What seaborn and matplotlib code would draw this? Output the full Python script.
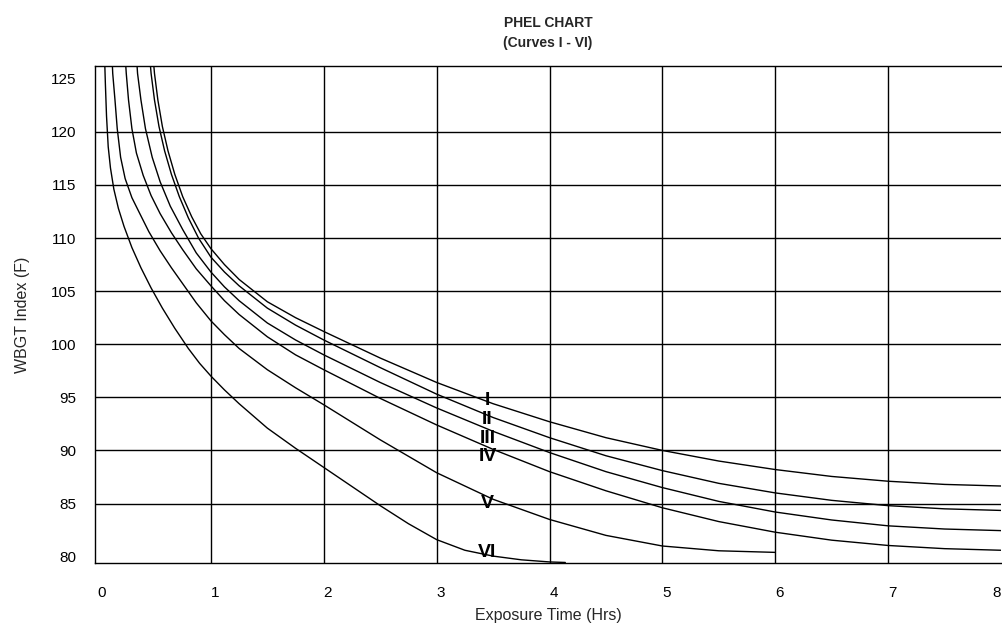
import pandas as pd
import seaborn as sns
import matplotlib.pyplot as plt
from matplotlib.transforms import ScaledTranslation

# PHEL curves (x = exposure hours, y = WBGT in F)
curve_names = ["I", "II", "III", "IV", "V", "VI"]

i_x = [0.48, 0.50, 0.53, 0.57, 0.62, 0.68, 0.75, 0.83, 0.91, 1.0, 1.12, 1.25, 1.5, 1.75, 2.0, 2.5,
       3.0, 3.5, 4.0, 4.5, 5.0, 5.5, 6.0, 6.5, 7.0, 7.5, 8.0]
i_y = [128, 125.5, 123, 120.5, 118.2, 116.0, 113.9, 112.0, 110.4, 109.0, 107.5, 106.1, 104.0, 102.5, 101.2, 98.7,
       96.4, 94.4, 92.7, 91.2, 90.0, 89.0, 88.2, 87.55, 87.1, 86.8, 86.65]

ii_x = [0.45, 0.47, 0.50, 0.54, 0.59, 0.65, 0.72, 0.80, 0.89, 1.0, 1.12, 1.25, 1.5, 1.75, 2.0, 2.5,
        3.0, 3.5, 4.0, 4.5, 5.0, 5.5, 6.0, 6.5, 7.0, 7.5, 8.0]
ii_y = [128, 125.5, 123, 120.5, 118.2, 116.0, 113.9, 111.9, 110.0, 108.2, 106.8, 105.5, 103.4, 101.8, 100.4, 97.8,
        95.3, 93.1, 91.2, 89.5, 88.1, 86.9, 86.0, 85.3, 84.8, 84.5, 84.35]

iii_x = [0.335, 0.35, 0.38, 0.42, 0.48, 0.55, 0.64, 0.75, 0.87, 1.0, 1.12, 1.25, 1.5, 1.75, 2.0, 2.5,
         3.0, 3.5, 4.0, 4.5, 5.0, 5.5, 6.0, 6.5, 7.0, 7.5, 8.0]
iii_y = [128, 125.5, 123, 120.3, 117.6, 115.3, 113.0, 110.8, 108.6, 106.8, 105.4, 104.1, 102.0, 100.4, 99.0, 96.4,
         94.0, 91.8, 89.8, 88.0, 86.5, 85.2, 84.2, 83.45, 82.9, 82.6, 82.45]

iv_x = [0.235, 0.25, 0.27, 0.30, 0.34, 0.40, 0.47, 0.55, 0.65, 0.75, 0.87, 1.0, 1.12, 1.25, 1.5, 1.75, 2.0, 2.5,
        3.0, 3.5, 4.0, 4.5, 5.0, 5.5, 6.0, 6.5, 7.0, 7.5, 8.0]
iv_y = [128, 125.5, 123, 120.3, 118.0, 115.9, 114.0, 112.3, 110.5, 108.9, 107.1, 105.5, 104.1, 102.8, 100.7, 99.0, 97.6, 94.9,
        92.4, 90.1, 88.0, 86.2, 84.6, 83.3, 82.3, 81.55, 81.05, 80.75, 80.6]

v_x = [0.12, 0.13, 0.15, 0.17, 0.20, 0.24, 0.30, 0.37, 0.45, 0.55, 0.65, 0.75, 0.87, 1.0, 1.12, 1.25, 1.5, 1.75, 2.0, 2.5,
       3.0, 3.5, 4.0, 4.5, 5.0, 5.5, 6.0]
v_y = [128, 125.5, 123, 120.3, 117.6, 115.6, 113.8, 112.3, 110.6, 108.8, 107.2, 105.7, 103.9, 102.2, 100.9, 99.6, 97.6, 95.9, 94.3, 91.0,
       87.9, 85.4, 83.5, 82.0, 81.0, 80.55, 80.4]

vi_x = [0.055, 0.065, 0.075, 0.09, 0.11, 0.14, 0.18, 0.23, 0.30, 0.38, 0.47, 0.57, 0.68, 0.8, 0.9, 1.0, 1.12, 1.25, 1.5, 1.75, 2.0,
        2.25, 2.5, 2.75, 3.0, 3.25, 3.5, 3.75, 4.0, 4.14]
vi_y = [128, 124.5, 121.5, 118.6, 116.6, 114.6, 112.8, 111.1, 109.1, 107.2, 105.3, 103.4, 101.5, 99.6, 98.2, 97.0, 95.7, 94.4, 92.1, 90.2, 88.4,
        86.6, 84.8, 83.1, 81.6, 80.6, 80.05, 79.7, 79.5, 79.45]

# where the roman numeral labels sit
label_x = [3.45, 3.45, 3.45, 3.45, 3.45, 3.45]
label_y = [94.7, 92.9, 91.1, 89.4, 85.0, 80.4]

x_ticks = [0, 1, 2, 3, 4, 5, 6, 7, 8]
y_ticks = [80, 85, 90, 95, 100, 105, 110, 115, 120, 125]

frames = []
for name, xs, ys in zip(curve_names, [i_x, ii_x, iii_x, iv_x, v_x, vi_x], [i_y, ii_y, iii_y, iv_y, v_y, vi_y]):
    frames.append(pd.DataFrame({"curve": name, "hrs": xs, "wbgt": ys}))
df = pd.concat(frames, ignore_index=True)

sns.set_theme(style="white")
plt.rcParams["font.family"] = ["Liberation Sans", "DejaVu Sans"]

fig = plt.figure(figsize=(10.02, 6.31), dpi=100)
ax = fig.add_axes([95 / 1002, 1 - 563 / 631, (1001 - 95) / 1002, (563 - 66) / 631])

sns.lineplot(data=df, x="hrs", y="wbgt", units="curve", estimator=None, sort=False,
             color="black", linewidth=1.0, ax=ax)

for name, lx, ly in zip(curve_names, label_x, label_y):
    ax.text(lx, ly, name, ha="center", va="center", fontsize=14, fontweight="bold", color="black")

ax.set_xlim(-0.027, 8)
ax.set_ylim(79.4, 126.2)
ax.set_xticks(x_ticks)
ax.set_yticks(y_ticks)
ax.grid(True, color="black", linewidth=1.0)
ax.set_axisbelow(True)
# no gridline at 80 / 125, none on the x=0 and x=8 edges
ygrid = ax.yaxis.get_gridlines()
ygrid[0].set_visible(False)
ygrid[-1].set_visible(False)
xgrid = ax.xaxis.get_gridlines()
xgrid[0].set_visible(False)
xgrid[-1].set_visible(False)

ax.tick_params(axis="both", length=0, labelsize=11, colors="black")
ax.tick_params(axis="y", pad=13.5)
ax.tick_params(axis="x", pad=16.5)
xlabels = ax.get_xticklabels()
for lab in xlabels[:-1]:
    lab.set_transform(lab.get_transform() + ScaledTranslation(4 / 100, 0, fig.dpi_scale_trans))
xlabels[-1].set_transform(xlabels[-1].get_transform() + ScaledTranslation(-4 / 100, 0, fig.dpi_scale_trans))

for side in ["left", "bottom", "top"]:
    ax.spines[side].set_color("black")
    ax.spines[side].set_linewidth(1.0)
ax.spines["right"].set_visible(False)

ax.set_xlabel("Exposure Time (Hrs)", fontsize=11.5, labelpad=6)
ax.set_ylabel("WBGT Index (F)", fontsize=11.5, labelpad=15)
ax.set_title("PHEL CHART\n(Curves I - VI)", fontsize=10, fontweight="bold", pad=14, linespacing=1.5)

fig.savefig("out.png", dpi=100)
